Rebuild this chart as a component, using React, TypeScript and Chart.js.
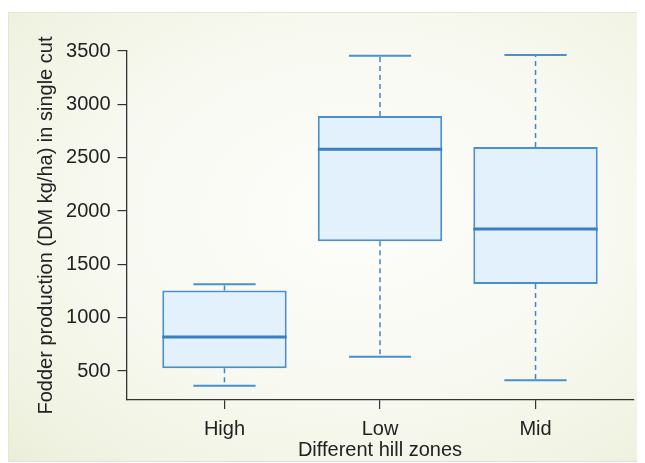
import React, { useEffect, useRef } from "react";
import { Chart, registerables } from "chart.js";

Chart.register(...registerables);

const categories = ["High", "Low", "Mid"];
const whiskerMin = [362, 634, 413];
const q1 = [525, 1716, 1316];
const median = [818, 2578, 1831];
const q3 = [1255, 2891, 2600];
const whiskerMax = [1313, 3456, 3462];
const yTicks = [500, 1000, 1500, 2000, 2500, 3000, 3500];
const xTicks = [1, 2, 3];

const FONT = "'Liberation Sans', Arial, Helvetica, sans-serif";

const boxPlugin = {
  id: "boxExtras",
  beforeDatasetsDraw(chart: any) {
    const { ctx, scales } = chart;
    const x = scales.x;
    const y = scales.y;
    const meta = chart.getDatasetMeta(0);
    ctx.save();
    categories.forEach((_, i) => {
      const el: any = meta.data[i];
      const cx = x.getPixelForValue(i + 1);
      const half = el ? el.width / 4 : 30;
      ctx.strokeStyle = "#3f86c8";
      ctx.lineWidth = 1.5;
      ctx.setLineDash([5, 4]);
      ctx.beginPath();
      ctx.moveTo(cx, y.getPixelForValue(q3[i]));
      ctx.lineTo(cx, y.getPixelForValue(whiskerMax[i]));
      ctx.moveTo(cx, y.getPixelForValue(q1[i]));
      ctx.lineTo(cx, y.getPixelForValue(whiskerMin[i]));
      ctx.stroke();
      ctx.setLineDash([]);
      ctx.lineWidth = 2;
      ctx.strokeStyle = "#4a8fd0";
      ctx.beginPath();
      const yMax = y.getPixelForValue(whiskerMax[i]);
      const yMin = y.getPixelForValue(whiskerMin[i]);
      ctx.moveTo(cx - half, yMax);
      ctx.lineTo(cx + half, yMax);
      ctx.moveTo(cx - half, yMin);
      ctx.lineTo(cx + half, yMin);
      ctx.stroke();
    });
    ctx.restore();
  },
  afterDatasetsDraw(chart: any) {
    const { ctx, scales } = chart;
    const y = scales.y;
    const meta = chart.getDatasetMeta(0);
    ctx.save();
    ctx.strokeStyle = "#3a7fc2";
    ctx.lineWidth = 3;
    categories.forEach((_, i) => {
      const el: any = meta.data[i];
      if (!el) return;
      const ym = y.getPixelForValue(median[i]);
      ctx.beginPath();
      ctx.moveTo(el.x - el.width / 2, ym);
      ctx.lineTo(el.x + el.width / 2, ym);
      ctx.stroke();
    });
    ctx.restore();
  },
};

export default function App() {
  const ref = useRef<HTMLCanvasElement>(null);
  useEffect(() => {
    if (!ref.current) return;
    const chart = new Chart(ref.current, {
      type: "bar",
      data: {
        datasets: [
          {
            label: "box",
            data: categories.map((_, i) => ({ x: i + 1, y: [q1[i], q3[i]] })) as any,
            backgroundColor: "#e3f1fc",
            borderColor: "#4a8fd0",
            borderWidth: 2,
            borderSkipped: false,
            barPercentage: 1,
            categoryPercentage: 0.8,
          },
        ],
      },
      options: {
        animation: false,
        responsive: false,
        layout: { padding: { top: 39, right: 11.5, left: 0, bottom: 0 } },
        plugins: {
          legend: { display: false },
          tooltip: { enabled: false },
        },
        scales: {
          x: {
            type: "linear",
            min: 0.37,
            max: 3.63,
            offset: false,
            afterBuildTicks: (s: any) => {
              s.ticks = xTicks.map((v) => ({ value: v }));
            },
            afterFit: (s: any) => {
              s.height = 62;
            },
            grid: { offset: false, drawOnChartArea: false, drawTicks: true, tickLength: 9, color: "#333", lineWidth: 1.2 },
            border: { display: true, color: "#333", width: 1.3 },
            ticks: {
              autoSkip: false,
              maxRotation: 0,
              padding: 8,
              color: "#222",
              font: { family: FONT, size: 20 },
              callback: (v: any) => categories[Math.round(Number(v)) - 1] ?? "",
            },
            title: {
              display: true,
              text: "Different hill zones",
              color: "#222",
              font: { family: FONT, size: 20 },
              padding: { top: 0, bottom: 0 },
            },
          },
          y: {
            type: "linear",
            min: 228,
            max: 3500,
            afterBuildTicks: (s: any) => {
              s.ticks = yTicks.map((v) => ({ value: v }));
            },
            afterFit: (s: any) => {
              s.width = 118.5;
            },
            grid: { drawOnChartArea: false, drawTicks: true, tickLength: 9, color: "#333", lineWidth: 1.2 },
            border: { display: true, color: "#333", width: 1.3 },
            ticks: {
              padding: 7,
              color: "#222",
              font: { family: FONT, size: 20 },
              callback: (v: any) => String(v),
            },
            title: {
              display: true,
              text: "Fodder production (DM kg/ha) in single cut",
              color: "#222",
              font: { family: FONT, size: 20 },
              padding: { top: 26, bottom: 0 },
            },
          },
        },
      },
      plugins: [boxPlugin],
    });
    return () => chart.destroy();
  }, []);

  return (
    <div style={{ paddingTop: 4 }}>
      <div
        style={{
          width: 637,
          height: 450,
          background:
            "radial-gradient(ellipse at 55% 45%, #fdfdfb 0%, #f8f9f1 50%, #f0f3e2 85%, #eaeed8 100%)",
          boxShadow: "inset 1px 1px 0 #e2e8cb, inset 0 -1px 0 #dedfd6",
        }}
      >
        <canvas ref={ref} width={637} height={450} style={{ display: "block" }} />
      </div>
    </div>
  );
}
